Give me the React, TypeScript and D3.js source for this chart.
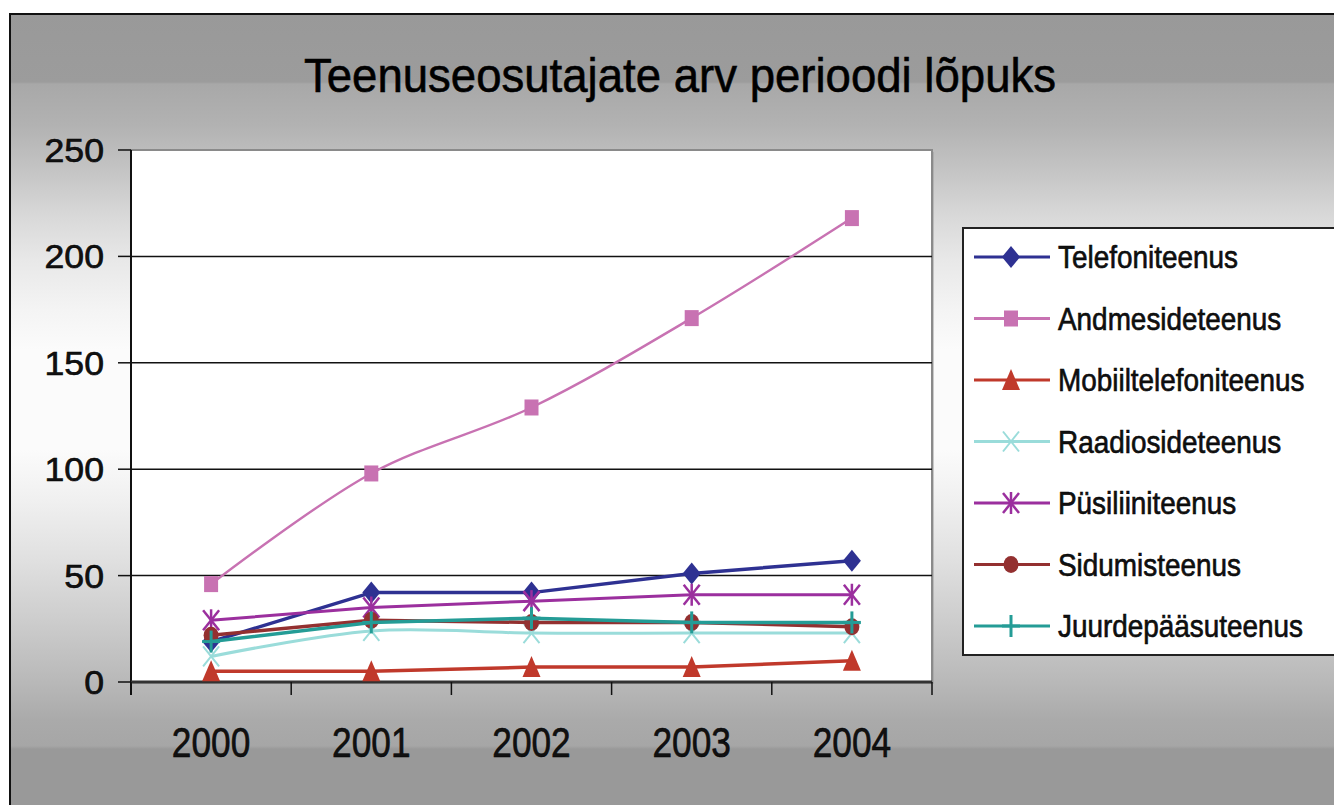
import React from 'react';
import * as d3 from 'd3';

const years = ['2000', '2001', '2002', '2003', '2004'];
const telefoniteenus = [19, 42, 42, 51, 57];
const andmesideteenus = [46, 98, 129, 171, 218];
const mobiiltelefoniteenus = [5, 5, 7, 7, 10];
const raadiosideteenus = [12, 24, 23, 23, 23];
const pusiliiniteenus = [29, 35, 38, 41, 41];
const sidumisteenus = [22, 29, 28, 28, 26];
const juurdepaasuteenus = [19, 28, 30, 28, 28];
const yTicks = [0, 50, 100, 150, 200, 250];
const title = 'Teenuseosutajate arv perioodi lõpuks';

type Marker = 'diamond' | 'square' | 'triangle' | 'x' | 'asterisk' | 'circle' | 'plus';
interface Series { name: string; values: number[]; color: string; marker: Marker; width: number; smooth: boolean; }

const series: Series[] = [
  { name: 'Telefoniteenus', values: telefoniteenus, color: '#2e3192', marker: 'diamond', width: 3.5, smooth: false },
  { name: 'Andmesideteenus', values: andmesideteenus, color: '#c872b2', marker: 'square', width: 2.4, smooth: true },
  { name: 'Mobiiltelefoniteenus', values: mobiiltelefoniteenus, color: '#c0392b', marker: 'triangle', width: 3.5, smooth: false },
  { name: 'Raadiosideteenus', values: raadiosideteenus, color: '#9adcda', marker: 'x', width: 3, smooth: true },
  { name: 'Püsiliiniteenus', values: pusiliiniteenus, color: '#9b2f9e', marker: 'asterisk', width: 3, smooth: false },
  { name: 'Sidumisteenus', values: sidumisteenus, color: '#933030', marker: 'circle', width: 3.5, smooth: false },
  { name: 'Juurdepääsuteenus', values: juurdepaasuteenus, color: '#249c96', marker: 'plus', width: 3.5, smooth: false },
];

const FONT = "'Liberation Sans', Arial, Helvetica, sans-serif";

function MarkerShape({ type, color, x, y }: { type: Marker; color: string; x: number; y: number }) {
  const t = `translate(${x},${y})`;
  switch (type) {
    case 'diamond':
      return <path transform={t} d="M0,-11L9,0L0,11L-9,0Z" fill={color} />;
    case 'square':
      return <rect transform={t} x={-7} y={-8} width={14} height={16} fill={color} />;
    case 'triangle':
      return <path transform={t} d="M0,-11L9,10L-9,10Z" fill={color} />;
    case 'x':
      return (
        <g transform={t} stroke={color} strokeWidth={2}>
          <line x1={-8} y1={-10} x2={8} y2={10} />
          <line x1={8} y1={-10} x2={-8} y2={10} />
        </g>
      );
    case 'asterisk':
      return (
        <g transform={t} stroke={color} strokeWidth={2.5}>
          <line x1={-8} y1={-10} x2={8} y2={10} />
          <line x1={8} y1={-10} x2={-8} y2={10} />
          <line x1={0} y1={-11} x2={0} y2={11} />
        </g>
      );
    case 'circle':
      return <ellipse transform={t} rx={7.5} ry={8.5} fill={color} />;
    case 'plus':
      return (
        <g transform={t} stroke={color} strokeWidth={3}>
          <line x1={0} y1={-11} x2={0} y2={11} />
          <line x1={-9} y1={0} x2={9} y2={0} />
        </g>
      );
  }
  return null;
}

export default function App() {
  const W = 1334, H = 805;
  const left = 131, right = 932, top = 150, bottom = 682;
  const x = d3.scaleBand<string>().domain(years).range([left, right]);
  const cx = (yr: string) => (x(yr) ?? 0) + x.bandwidth() / 2;
  const y = d3.scaleLinear().domain([0, 250]).range([bottom, top]);
  const boundaries = years.map((yr) => x(yr) ?? 0).concat([right]);

  const legendX = 963, legendY = 228, legendW = 372, legendH = 427;
  const rowY = (i: number) => 257 + i * 61.5;
  const textStroke = { stroke: '#000', strokeWidth: 0.6 };

  return (
    <svg width={W} height={H} style={{ position: 'fixed', left: 0, top: 0 }} fontFamily={FONT}>
      <defs>
        <linearGradient id="bg" x1="0" y1="0" x2="0" y2={H} gradientUnits="userSpaceOnUse">
          <stop offset={14 / H} stopColor="#999999" />
          <stop offset={82 / H} stopColor="#9c9c9c" />
          <stop offset={84 / H} stopColor="#a8a8a8" />
          <stop offset={125 / H} stopColor="#b2b2b2" />
          <stop offset={170 / H} stopColor="#c4c4c4" />
          <stop offset={215 / H} stopColor="#d8d8d8" />
          <stop offset={260 / H} stopColor="#e8e8e8" />
          <stop offset={310 / H} stopColor="#f4f4f4" />
          <stop offset={350 / H} stopColor="#fbfbfb" />
          <stop offset={450 / H} stopColor="#fbfbfb" />
          <stop offset={500 / H} stopColor="#f0f0f0" />
          <stop offset={560 / H} stopColor="#e0e0e0" />
          <stop offset={620 / H} stopColor="#cdcdcd" />
          <stop offset={680 / H} stopColor="#b9b9b9" />
          <stop offset={720 / H} stopColor="#aaaaaa" />
          <stop offset={746 / H} stopColor="#a6a6a6" />
          <stop offset={749 / H} stopColor="#999999" />
          <stop offset={1} stopColor="#999999" />
        </linearGradient>
      </defs>
      <rect x={0} y={0} width={W} height={H} fill="#ffffff" />
      <rect x={10} y={14} width={W} height={H} fill="url(#bg)" stroke="#111" strokeWidth={2} />

      {/* title */}
      <text transform={`translate(680,92) scale(0.93,1)`} textAnchor="middle" fontSize={49} fill="#000" {...textStroke}>{title}</text>

      {/* plot area */}
      <rect x={left + 2} y={top + 2} width={right - left} height={bottom - top} fill="#9a9a9a" opacity={0.5} />
      <rect x={left} y={top} width={right - left} height={bottom - top} fill="#ffffff" stroke="#8a8a8a" strokeWidth={2} />

      {/* gridlines */}
      {yTicks.filter((v) => v > 0 && v < 250).map((v) => (
        <line key={v} x1={left} x2={right} y1={y(v)} y2={y(v)} stroke="#111" strokeWidth={1.5} />
      ))}

      {/* y axis */}
      <line x1={left} x2={left} y1={top} y2={bottom + 13} stroke="#111" strokeWidth={2} />
      {yTicks.map((v) => (
        <g key={v}>
          <line x1={left - 13} x2={left} y1={y(v)} y2={y(v)} stroke="#111" strokeWidth={1.5} />
          <text transform={`translate(104,${y(v) + 12}) scale(1.08,1)`} textAnchor="end" fontSize={33} fill="#111" {...textStroke}>{v}</text>
        </g>
      ))}

      {/* x axis */}
      <line x1={left} x2={right} y1={bottom} y2={bottom} stroke="#333" strokeWidth={3} />
      {boundaries.map((b, i) => (
        <line key={i} x1={b} x2={b} y1={bottom} y2={bottom + 13} stroke="#111" strokeWidth={1.5} />
      ))}
      {years.map((yr) => (
        <text key={yr} transform={`translate(${cx(yr)},757) scale(0.84,1)`} textAnchor="middle" fontSize={42} fill="#111" {...textStroke}>{yr}</text>
      ))}

      {/* series */}
      {series.map((s) => {
        const line = d3.line<number>()
          .x((_, i) => cx(years[i]))
          .y((v) => y(v))
          .curve(s.smooth ? d3.curveCatmullRom.alpha(0.5) : d3.curveLinear);
        return (
          <g key={s.name}>
            <path d={line(s.values) ?? ''} fill="none" stroke={s.color} strokeWidth={s.width} strokeLinejoin="round" />
            {s.values.map((v, i) => (
              <MarkerShape key={i} type={s.marker} color={s.color} x={cx(years[i])} y={y(v)} />
            ))}
          </g>
        );
      })}

      {/* legend */}
      <rect x={legendX} y={legendY} width={legendW} height={legendH} fill="#ffffff" stroke="#222" strokeWidth={2} />
      {series.map((s, i) => (
        <g key={s.name}>
          <line x1={974} x2={1050} y1={rowY(i)} y2={rowY(i)} stroke={s.color} strokeWidth={3} />
          <MarkerShape type={s.marker} color={s.color} x={1011} y={rowY(i)} />
          <text transform={`translate(1058,${rowY(i) + 11}) scale(0.9,1)`} fontSize={31} fill="#111" {...textStroke}>{s.name}</text>
        </g>
      ))}
    </svg>
  );
}
